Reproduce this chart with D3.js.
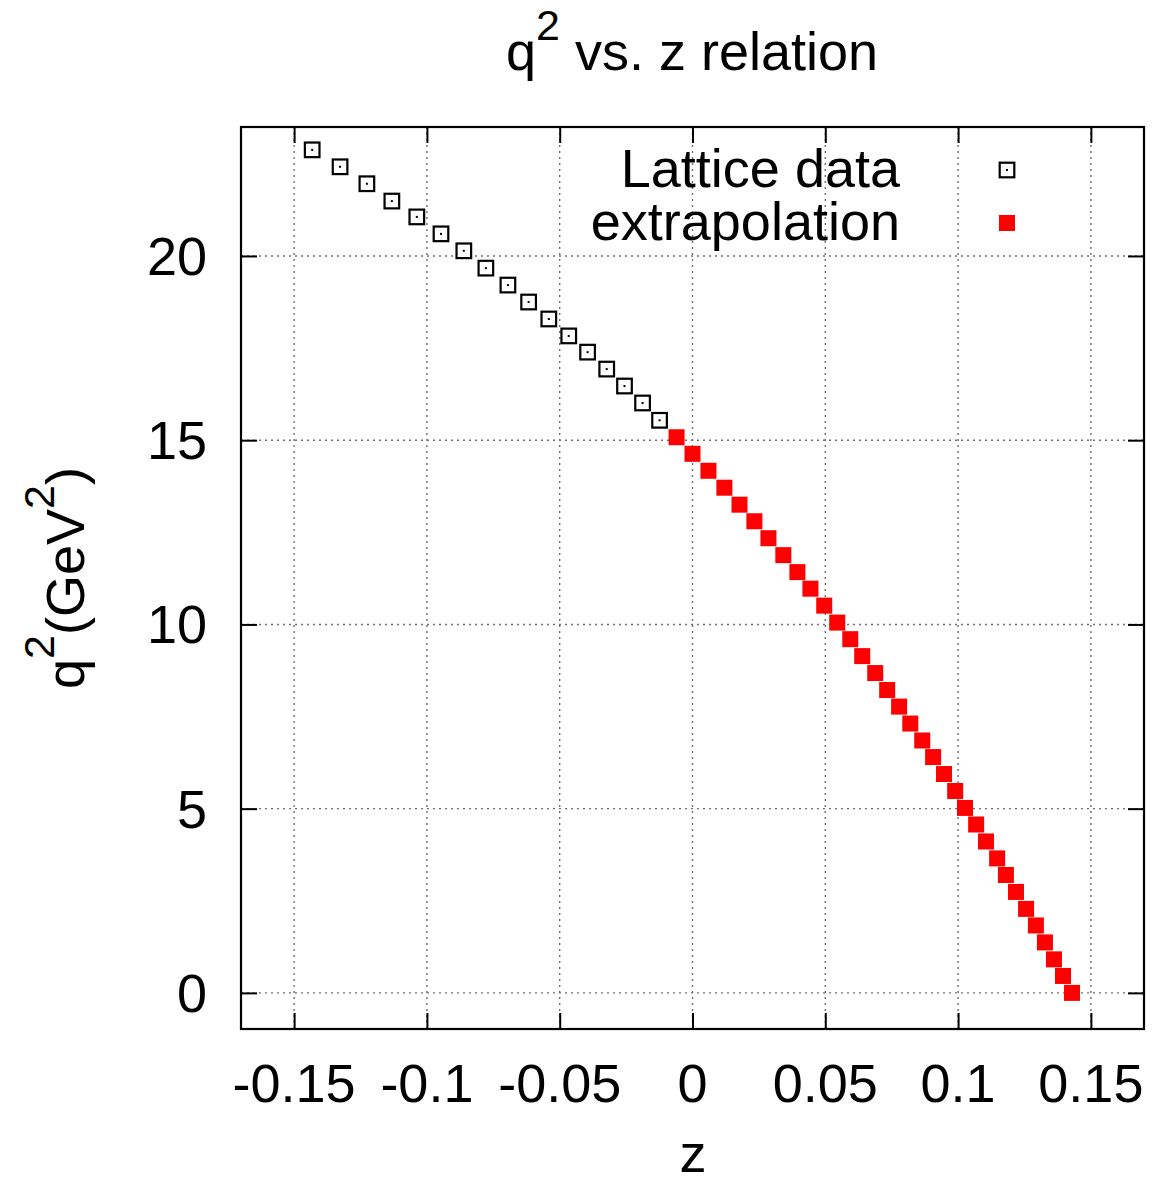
<!DOCTYPE html>
<html lang="en">
    <head>
        <title>q2 vs. z relation</title>
        <script src="https://d3js.org/d3.v7.min.js"></script>
        <style>
            body { margin: 0; background: #ffffff; }
            text { font-family: "Liberation Sans", Arial, Helvetica, sans-serif; fill: #000000; }
        </style>
    </head>
    <body>
    <div id="mainDiv"></div>

        <script type="text/javascript">
            // values
            const latticeZ = [-0.1432, -0.1327, -0.1226, -0.1132, -0.1038, -0.0947, -0.0861, -0.0778, -0.0695,
                              -0.0617, -0.0541, -0.0466, -0.0395, -0.0323, -0.0256, -0.0188, -0.0124]
            const latticeQ2 = [22.88, 22.42, 21.96, 21.49, 21.06, 20.60, 20.14, 19.67, 19.21,
                               18.75, 18.29, 17.83, 17.39, 16.93, 16.47, 16.01, 15.54]

            const extrapZ = [-0.0060, 0.0000, 0.0060, 0.0120, 0.0177, 0.0233, 0.0286, 0.0342, 0.0395, 0.0444,
                             0.0496, 0.0545, 0.0594, 0.0639, 0.0688, 0.0733, 0.0778, 0.0820, 0.0865, 0.0906,
                             0.0947, 0.0989, 0.1026, 0.1068, 0.1105, 0.1147, 0.1180, 0.1218, 0.1256, 0.1293,
                             0.1327, 0.1361, 0.1395, 0.1429]
            const extrapQ2 = [15.08, 14.63, 14.17, 13.71, 13.25, 12.80, 12.34, 11.88, 11.42, 10.97,
                              10.51, 10.05, 9.60, 9.14, 8.68, 8.22, 7.77, 7.31, 6.85, 6.40,
                              5.94, 5.48, 5.02, 4.57, 4.11, 3.65, 3.20, 2.74, 2.28, 1.83,
                              1.37, 0.91, 0.46, 0.00]

            const xTicks = [-0.15, -0.1, -0.05, 0, 0.05, 0.1, 0.15]
            const xTickLabels = ['-0.15', '-0.1', '-0.05', '0', '0.05', '0.1', '0.15']
            const yTicks = [0, 5, 10, 15, 20]

            const width = 1154
            const height = 1184
            const margins = { top: 127, bottom: 155, left: 241, right: 10 }

            const svg = d3.select('#mainDiv').append('svg')
                .attr('width', width)
                .attr('height', height)

            const x = d3.scaleLinear()
                .domain([-0.17, 0.17])
                .range([margins.left, width - margins.right])
            const y = d3.scaleLinear()
                .domain([-0.98, 23.5])
                .range([height - margins.bottom, margins.top])

            const x0 = margins.left, x1 = width - margins.right
            const y0 = height - margins.bottom, y1 = margins.top
            const tickLen = 16
            const fontSize = 54

            // grid
            const grid = svg.append('g')
                .attr('stroke', '#707070')
                .attr('stroke-width', 1.4)
                .attr('stroke-dasharray', '2,4')
            grid.selectAll('.gx').data(xTicks).enter().append('line')
                .attr('x1', d => x(d)).attr('x2', d => x(d))
                .attr('y1', y0).attr('y2', y1)
            grid.selectAll('.gy').data(yTicks).enter().append('line')
                .attr('y1', d => y(d)).attr('y2', d => y(d))
                .attr('x1', x0).attr('x2', x1)

            // axes: gnuplot style, inward ticks mirrored on all sides
            const axisBottom = d3.axisBottom(x).tickValues(xTicks).tickSize(-tickLen).tickFormat('')
            const axisTop = d3.axisTop(x).tickValues(xTicks).tickSize(-tickLen).tickFormat('')
            const axisLeft = d3.axisLeft(y).tickValues(yTicks).tickSize(-tickLen).tickFormat('')
            const axisRight = d3.axisRight(y).tickValues(yTicks).tickSize(-tickLen).tickFormat('')

            const axes = [
                [axisBottom, `translate(0,${y0})`],
                [axisTop, `translate(0,${y1})`],
                [axisLeft, `translate(${x0},0)`],
                [axisRight, `translate(${x1},0)`]
            ]
            axes.forEach(([ax, tr]) => {
                const g = svg.append('g').attr('transform', tr).call(ax)
                g.select('.domain').remove()
                g.selectAll('.tick line').attr('stroke', '#000').attr('stroke-width', 2)
            })

            svg.append('rect')
                .attr('x', x0).attr('y', y1)
                .attr('width', x1 - x0).attr('height', y0 - y1)
                .attr('fill', 'none')
                .attr('stroke', '#000')
                .attr('stroke-width', 2.2)

            // tick labels
            svg.append('g').selectAll('text').data(xTicks).enter().append('text')
                .attr('x', d => x(d))
                .attr('y', 1102)
                .attr('text-anchor', 'middle')
                .style('font-size', fontSize + 'px')
                .text((d, i) => xTickLabels[i])

            svg.append('g').selectAll('text').data(yTicks).enter().append('text')
                .attr('x', 207)
                .attr('y', d => y(d))
                .attr('dy', '0.35em')
                .attr('text-anchor', 'end')
                .style('font-size', fontSize + 'px')
                .text(d => d)

            // title with superscript
            const title = svg.append('text')
                .attr('x', 692).attr('y', 70)
                .attr('text-anchor', 'middle')
                .style('font-size', fontSize + 'px')
            title.append('tspan').text('q')
            title.append('tspan').attr('dy', -30).style('font-size', '43px').text('2')
            title.append('tspan').attr('dy', 30).text(' vs. z relation')

            // axis labels
            svg.append('text')
                .attr('x', 693).attr('y', 1172)
                .attr('text-anchor', 'middle')
                .style('font-size', fontSize + 'px')
                .text('z')

            const ylab = svg.append('text')
                .attr('transform', `translate(84,${(y0 + y1) / 2}) rotate(-90)`)
                .attr('text-anchor', 'middle')
                .style('font-size', fontSize + 'px')
            ylab.append('tspan').text('q')
            ylab.append('tspan').attr('dy', -30).style('font-size', '43px').text('2')
            ylab.append('tspan').attr('dy', 30).text('(GeV')
            ylab.append('tspan').attr('dy', -30).style('font-size', '43px').text('2')
            ylab.append('tspan').attr('dy', 30).text(')')

            // points
            const lattice = latticeZ.map((z, i) => ({ z: z, q2: latticeQ2[i] }))
            const extrap = extrapZ.map((z, i) => ({ z: z, q2: extrapQ2[i] }))

            const openBox = (sel) => {
                sel.append('rect')
                    .attr('x', -7.3).attr('y', -7.3)
                    .attr('width', 14.6).attr('height', 14.6)
                    .attr('fill', '#fff')
                    .attr('stroke', '#000')
                    .attr('stroke-width', 2.2)
                sel.append('rect')
                    .attr('x', -1).attr('y', -1)
                    .attr('width', 2).attr('height', 2)
                    .attr('fill', '#000')
            }
            const fullBox = (sel) => {
                sel.append('rect')
                    .attr('x', -8).attr('y', -8)
                    .attr('width', 16).attr('height', 16)
                    .attr('fill', '#ff0000')
            }

            svg.append('g').selectAll('g').data(lattice).enter().append('g')
                .attr('transform', d => `translate(${x(d.z)},${y(d.q2)})`)
                .call(openBox)

            svg.append('g').selectAll('g').data(extrap).enter().append('g')
                .attr('transform', d => `translate(${x(d.z)},${y(d.q2)})`)
                .call(fullBox)

            // legend
            const legend = [
                { label: 'Lattice data', y: 187, mark: openBox },
                { label: 'extrapolation', y: 240, mark: fullBox }
            ]
            legend.forEach(item => {
                svg.append('text')
                    .attr('x', 900).attr('y', item.y)
                    .attr('text-anchor', 'end')
                    .style('font-size', fontSize + 'px')
                    .text(item.label)
                svg.append('g')
                    .attr('transform', `translate(1007,${item.y - 17})`)
                    .call(item.mark)
            })
        </script>
    </body>
</html>
